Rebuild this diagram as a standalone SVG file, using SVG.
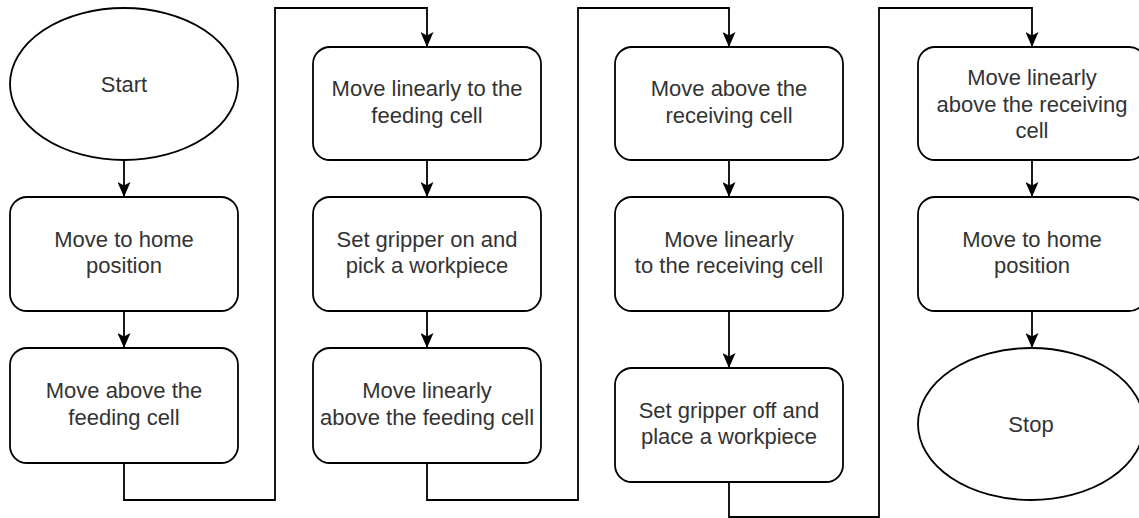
<svg xmlns="http://www.w3.org/2000/svg" width="1139" height="518" viewBox="0 0 1139 518">
<style>
.n{fill:#fff;stroke:#000;stroke-width:1.8}
.t{font-family:"Liberation Sans",Arial,sans-serif;font-size:22px;fill:#333;text-anchor:middle}
.c{fill:none;stroke:#000;stroke-width:1.8}
</style>
<defs>
<marker id="a" markerUnits="userSpaceOnUse" viewBox="0 0 15 13" refX="15" refY="6.5" markerWidth="15" markerHeight="13" orient="auto">
<path d="M0,0 L15,6.5 L0,13 L3.5,6.5 Z" fill="#000"/>
</marker>
</defs>
<rect width="1139" height="518" fill="#fff"/>
<g id="connectors">
<path class="c" marker-end="url(#a)" d="M124,160 V197"/>
<path class="c" marker-end="url(#a)" d="M124,311 V348"/>
<path class="c" marker-end="url(#a)" d="M124,463 V500 H275 V8 H427 V47"/>
<path class="c" marker-end="url(#a)" d="M427,160 V197"/>
<path class="c" marker-end="url(#a)" d="M427,311 V348"/>
<path class="c" marker-end="url(#a)" d="M427,463 V500 H578 V8 H729 V47"/>
<path class="c" marker-end="url(#a)" d="M729,160 V197"/>
<path class="c" marker-end="url(#a)" d="M729,311 V368"/>
<path class="c" marker-end="url(#a)" d="M729,482 V517 H879 V8 H1032 V47"/>
<path class="c" marker-end="url(#a)" d="M1032,160 V197"/>
<path class="c" marker-end="url(#a)" d="M1032,311 V348"/>
</g>
<g id="start">
<ellipse class="n" cx="124" cy="84" rx="114" ry="76"/>
<text class="t" x="124" y="91.5">Start</text>
</g>
<g id="home1">
<rect class="n" x="10" y="197" width="228" height="114" rx="17"/>
<text class="t" x="124" y="246.5">Move to home</text>
<text class="t" x="124" y="273">position</text>
</g>
<g id="aboveFeeding">
<rect class="n" x="10" y="348" width="228" height="115" rx="17"/>
<text class="t" x="124" y="398">Move above the</text>
<text class="t" x="124" y="424.5">feeding cell</text>
</g>
<g id="linearFeeding">
<rect class="n" x="313" y="47" width="228" height="113" rx="17"/>
<text class="t" x="427" y="96">Move linearly to the</text>
<text class="t" x="427" y="122.5">feeding cell</text>
</g>
<g id="gripperOn">
<rect class="n" x="313" y="197" width="228" height="114" rx="17"/>
<text class="t" x="427" y="246.5">Set gripper on and</text>
<text class="t" x="427" y="273">pick a workpiece</text>
</g>
<g id="linearAboveFeeding">
<rect class="n" x="313" y="348" width="228" height="115" rx="17"/>
<text class="t" x="427" y="398">Move linearly</text>
<text class="t" x="427" y="424.5">above the feeding cell</text>
</g>
<g id="aboveReceiving">
<rect class="n" x="615" y="47" width="228" height="113" rx="17"/>
<text class="t" x="729" y="96">Move above the</text>
<text class="t" x="729" y="122.5">receiving cell</text>
</g>
<g id="linearReceiving">
<rect class="n" x="615" y="197" width="228" height="114" rx="17"/>
<text class="t" x="729" y="246.5">Move linearly</text>
<text class="t" x="729" y="273">to the receiving cell</text>
</g>
<g id="gripperOff">
<rect class="n" x="615" y="368" width="228" height="114" rx="17"/>
<text class="t" x="729" y="417.5">Set gripper off and</text>
<text class="t" x="729" y="444">place a workpiece</text>
</g>
<g id="linearAboveReceiving">
<rect class="n" x="918" y="47" width="228" height="113" rx="17"/>
<text class="t" x="1032" y="85">Move linearly</text>
<text class="t" x="1032" y="111.5">above the receiving</text>
<text class="t" x="1032" y="138">cell</text>
</g>
<g id="home2">
<rect class="n" x="918" y="197" width="228" height="114" rx="17"/>
<text class="t" x="1032" y="246.5">Move to home</text>
<text class="t" x="1032" y="273">position</text>
</g>
<g id="stop">
<ellipse class="n" cx="1031" cy="424" rx="113" ry="76"/>
<text class="t" x="1031" y="431.5">Stop</text>
</g>
</svg>
